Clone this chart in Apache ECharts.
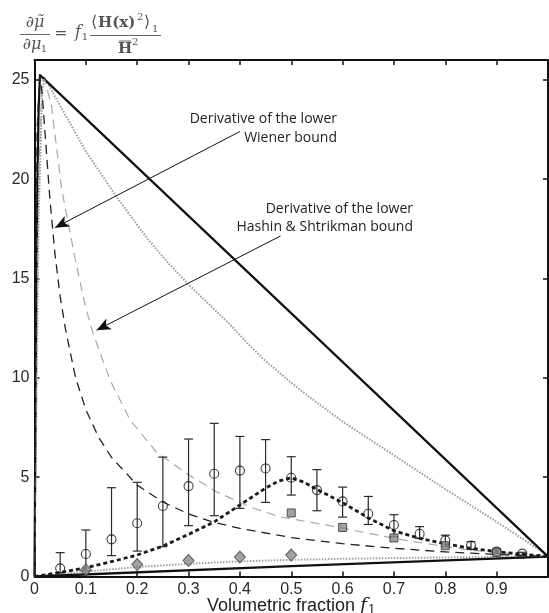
<!DOCTYPE html>
<html>
<head>
<meta charset="utf-8">
<script src="https://cdn.jsdelivr.net/npm/echarts@6/dist/echarts.min.js"></script>
<style>html,body{margin:0;padding:0;background:#fff}#c{width:549px;height:613px}</style>
</head>
<body>
<div id="c"></div>
<script>
// ---- data ----
const xTicks = [0, 0.1, 0.2, 0.3, 0.4, 0.5, 0.6, 0.7, 0.8, 0.9];
const yTicks = [0, 5, 10, 15, 20, 25];

// simulated points with error bars (open circles)
const circleX = [0.05,0.1,0.15,0.2,0.25,0.3,0.35,0.4,0.45,0.5,0.55,0.6,0.65,0.7,0.75,0.8,0.85,0.9,0.95];
const circleY = [0.41,1.13,1.87,2.68,3.55,4.55,5.17,5.33,5.44,4.97,4.35,3.78,3.16,2.59,2.15,1.82,1.56,1.25,1.15];
const errLow  = [0.19,0.3,1.05,1.28,1.5,2.56,3.06,3.43,3.73,4.10,3.31,2.99,2.62,2.0,1.92,1.5,1.37,1.15,1.05];
const errHigh = [1.2,2.34,4.47,4.74,6.01,6.92,7.71,7.05,6.89,6.03,5.38,4.50,4.03,3.11,2.51,2.08,1.75,1.35,1.22];

// grey squares
const squareX = [0.5,0.6,0.7,0.8,0.9];
const squareY = [3.2,2.47,1.94,1.55,1.22];

// grey diamonds
const diamondX = [0.1,0.2,0.3,0.4,0.5];
const diamondY = [0.33,0.6,0.8,0.98,1.08];

// thick black dotted curve (peak at 0.5)
const peakX = [0,0.05,0.1,0.15,0.2,0.25,0.3,0.35,0.4,0.45,0.475,0.5,0.525,0.55,0.6,0.65,0.7,0.75,0.8,0.85,0.9,0.95,1];
const peakY = [0,0.2,0.44,0.75,1.08,1.53,2.12,2.75,3.6,4.45,4.8,4.97,4.75,4.38,3.72,2.95,2.3,1.92,1.64,1.42,1.25,1.12,1.02];

// black dashed: derivative of the lower Wiener bound
const wienerX = [0,0.005,0.01,0.015,0.02,0.03,0.04,0.05,0.06,0.08,0.1,0.125,0.15,0.2,0.25,0.3,0.35,0.4,0.5,0.6,0.7,0.8,0.9,1];
const wienerY = [0,22.4,25.2,24.3,22.5,19.0,16.2,14.1,12.5,10.0,8.4,7.0,6.0,4.6,3.75,3.15,2.72,2.42,1.96,1.65,1.42,1.24,1.11,1.0];

// grey dashed: derivative of the lower Hashin & Shtrikman bound
const hsX = [0,0.008,0.015,0.02,0.033,0.053,0.079,0.1,0.114,0.147,0.186,0.237,0.296,0.354,0.419,0.477,0.587,0.717,0.846,1];
const hsY = [0,20,25.0,25.0,23.7,19.5,16.0,13.5,12.24,9.9,7.88,6.28,5.19,4.27,3.51,3.01,2.5,1.84,1.33,1.0];

// grey dotted upper curve
const dotUpX = [0,0.008,0.015,0.02,0.05,0.1,0.16,0.22,0.26,0.3,0.34,0.38,0.42,0.45,0.5,0.55,0.6,0.7,0.8,0.9,1];
const dotUpY = [0,18,24.5,25.1,23.7,21.4,19.1,17.0,15.8,14.7,13.7,12.7,11.6,10.85,9.75,8.75,7.8,6.1,4.4,2.75,1.05];

// thick solid upper line
const solidUpX = [0,0.002,0.004,0.006,0.008,0.0107,1];
const solidUpY = [0,9,16,20.5,23.5,25.24,1.0];

// thick solid lower line
const solidLowX = [0,0.5,1];
const solidLowY = [0,0.52,1.0];

// grey dotted lower curve
const dotLowX = [0,0.05,0.1,0.2,0.3,0.4,0.5,0.6,0.7,0.8,0.9,1];
const dotLowY = [0,0.12,0.25,0.48,0.64,0.76,0.84,0.89,0.93,0.96,0.98,1.0];

// annotation arrows [start, tip]
const arrow1 = [[0.4,22.4],[0.04,17.56]];
const arrow2 = [[0.479,17.14],[0.121,12.4]];

const zip = (a,b) => a.map((v,i)=>[v,b[i]]);

const axisCommon = {
  type: 'value', min: 0,
  splitLine: {show: false},
  axisLine: {show: true, onZero: false, lineStyle: {color: '#111', width: 2}},
  axisTick: {show: true, inside: true, length: 5, lineStyle: {color: '#111', width: 1.5}}
};

const labelStyle = {color: '#2a2a2a', fontSize: 16, fontFamily: 'Liberation Sans'};

const chart = echarts.init(document.getElementById('c'), null, {renderer: 'canvas'});

const lineSeries = (name, x, y, color, width, dash, z) => ({
  name, type: 'line', data: zip(x, y), showSymbol: false, symbol: 'none',
  smooth: false, silent: true, z: z || 2,
  lineStyle: {color, width, type: dash || 'solid', join: 'round'}
});

chart.setOption({
  animation: false,
  backgroundColor: '#fff',
  grid: {left: 34.5, right: 1, top: 60, bottom: 36.5, containLabel: false, outerBoundsMode: 'none'},
  xAxis: [
    Object.assign({}, axisCommon, {
      max: 1, interval: 0.1, position: 'bottom',
      axisLabel: Object.assign({margin: 5, showMaxLabel: false,
        formatter: v => xTicks.some(t => Math.abs(t - v) < 1e-9) ? String(+v.toFixed(1)) : ''}, labelStyle),
      name: '{t|Volumetric fraction }{f|f}{s|1}',
      nameLocation: 'middle', nameGap: 20, nameMoveOverlap: false,
      nameTextStyle: {rich: {
        t: {fontSize: 18, fontFamily: 'Liberation Sans', color: '#222', lineHeight: 20, verticalAlign: 'middle'},
        f: {fontSize: 19, fontFamily: 'DejaVu Serif', fontStyle: 'italic', color: '#222', lineHeight: 20, verticalAlign: 'middle'},
        s: {fontSize: 12, fontFamily: 'DejaVu Serif', color: '#222', lineHeight: 12, verticalAlign: 'bottom', padding: [0,0,0,1]}
      }}
    }),
    Object.assign({}, axisCommon, {max: 1, interval: 0.1, position: 'top', axisLabel: {show: false}})
  ],
  yAxis: [
    Object.assign({}, axisCommon, {
      max: 26, interval: 5, position: 'left',
      axisLabel: Object.assign({margin: 5, showMaxLabel: false,
        formatter: v => yTicks.includes(v) ? String(v) : ''}, labelStyle)
    }),
    Object.assign({}, axisCommon, {max: 26, interval: 5, position: 'right', axisLabel: {show: false}})
  ],
  series: [
    lineSeries('dotLow', dotLowX, dotLowY, '#a0a0a0', 2, [1.5, 1.5]),
    lineSeries('solidLow', solidLowX, solidLowY, '#111', 2.4),
    lineSeries('dotUp', dotUpX, dotUpY, '#9c9c9c', 2, [1.5, 1.5]),
    lineSeries('solidUp', solidUpX, solidUpY, '#111', 2.2),
    lineSeries('hs', hsX, hsY, '#a8a8a8', 1.2, [9, 6]),
    lineSeries('wiener', wienerX, wienerY, '#222', 1.3, [9, 6]),
    lineSeries('peak', peakX, peakY, '#1a1a1a', 2.8, [4, 3], 3),
    {
      name: 'errbars', type: 'custom', silent: true, z: 4,
      data: circleX.map((x,i)=>[x, errLow[i], errHigh[i]]),
      renderItem: (params, api) => {
        const x = api.value(0);
        const pl = api.coord([x, api.value(1)]);
        const ph = api.coord([x, api.value(2)]);
        const w = 4.5;
        const st = {stroke: '#2a2a2a', lineWidth: 1.2};
        return {type: 'group', children: [
          {type: 'line', shape: {x1: pl[0], y1: pl[1], x2: ph[0], y2: ph[1]}, style: st},
          {type: 'line', shape: {x1: ph[0]-w, y1: ph[1], x2: ph[0]+w, y2: ph[1]}, style: st},
          {type: 'line', shape: {x1: pl[0]-w, y1: pl[1], x2: pl[0]+w, y2: pl[1]}, style: st}
        ]};
      }
    },
    {
      name: 'circles', type: 'scatter', data: zip(circleX, circleY), symbol: 'circle', symbolSize: 9, z: 5,
      silent: true, itemStyle: {color: 'rgba(255,255,255,0)', borderColor: '#111', borderWidth: 1.1}
    },
    {
      name: 'squares', type: 'scatter', data: zip(squareX, squareY), symbol: 'rect', symbolSize: 8, z: 6,
      silent: true, itemStyle: {color: '#8a8a8a', borderColor: '#333', borderWidth: 1}
    },
    {
      name: 'diamonds', type: 'scatter', data: zip(diamondX, diamondY), symbol: 'diamond', symbolSize: [11, 12], z: 6,
      silent: true, itemStyle: {color: '#8a8a8a', borderColor: '#444', borderWidth: 1}
    },
    {
      name: 'arrows', type: 'line', data: [], silent: true, z: 7,
      markLine: {
        silent: true, animation: false,
        symbol: ['none', 'arrow'], symbolSize: [9, 14],
        label: {show: false},
        lineStyle: {type: 'solid', color: '#111', width: 1},
        emphasis: {disabled: true},
        data: [
          [{coord: arrow1[0]}, {coord: arrow1[1]}],
          [{coord: arrow2[0]}, {coord: arrow2[1]}]
        ]
      }
    }
  ],
  graphic: [
    // annotation texts
    {type: 'text', x: 337, y: 119, style: {text: 'Derivative of the lower', font: '14px "Open Sans"', fill: '#222', align: 'right', verticalAlign: 'middle'}},
    {type: 'text', x: 337, y: 138, style: {text: 'Wiener bound', font: '14px "Open Sans"', fill: '#222', align: 'right', verticalAlign: 'middle'}},
    {type: 'text', x: 413, y: 209, style: {text: 'Derivative of the lower', font: '14px "Open Sans"', fill: '#222', align: 'right', verticalAlign: 'middle'}},
    {type: 'text', x: 413, y: 227, style: {text: 'Hashin & Shtrikman bound', font: '14px "Open Sans"', fill: '#222', align: 'right', verticalAlign: 'middle'}},
    // formula
    {type: 'text', x: 35, y: 23, style: {text: '\u2202\u03bc\u0303', font: 'italic 16px "DejaVu Serif"', fill: '#555', align: 'center', verticalAlign: 'middle'}},
    {type: 'line', shape: {x1: 20, y1: 34.5, x2: 50, y2: 34.5}, style: {stroke: '#555', lineWidth: 0.9}},
    {type: 'text', x: 32, y: 45, style: {text: '\u2202\u03bc', font: 'italic 16px "DejaVu Serif"', fill: '#555', align: 'center', verticalAlign: 'middle'}},
    {type: 'text', x: 44, y: 49, style: {text: '1', font: '10px "DejaVu Serif"', fill: '#555', align: 'center', verticalAlign: 'middle'}},
    {type: 'text', x: 61, y: 34, style: {text: '=', font: '16px "DejaVu Serif"', fill: '#555', align: 'center', verticalAlign: 'middle'}},
    {type: 'text', x: 78, y: 33, style: {text: 'f', font: 'italic 16px "DejaVu Serif"', fill: '#555', align: 'center', verticalAlign: 'middle'}},
    {type: 'text', x: 85, y: 37, style: {text: '1', font: '10px "DejaVu Serif"', fill: '#555', align: 'center', verticalAlign: 'middle'}},
    {type: 'text', x: 91, y: 23, style: {text: '\u27e8', font: '16px "DejaVu Serif"', fill: '#555', align: 'left', verticalAlign: 'middle'}},
    {type: 'text', x: 98, y: 23, style: {text: 'H(x)', font: 'bold 15px "DejaVu Serif"', fill: '#555', align: 'left', verticalAlign: 'middle'}},
    {type: 'text', x: 137, y: 17, style: {text: '2', font: '10px "DejaVu Serif"', fill: '#555', align: 'left', verticalAlign: 'middle'}},
    {type: 'text', x: 144, y: 23, style: {text: '\u27e9', font: '16px "DejaVu Serif"', fill: '#555', align: 'left', verticalAlign: 'middle'}},
    {type: 'text', x: 152, y: 29, style: {text: '1', font: '10px "DejaVu Serif"', fill: '#555', align: 'left', verticalAlign: 'middle'}},
    {type: 'line', shape: {x1: 90, y1: 35.5, x2: 161, y2: 35.5}, style: {stroke: '#555', lineWidth: 0.9}},
    {type: 'line', shape: {x1: 119, y1: 41, x2: 131, y2: 41}, style: {stroke: '#555', lineWidth: 0.9}},
    {type: 'text', x: 125, y: 49, style: {text: 'H', font: 'bold 15px "DejaVu Serif"', fill: '#555', align: 'center', verticalAlign: 'middle'}},
    {type: 'text', x: 132, y: 42, style: {text: '2', font: '10px "DejaVu Serif"', fill: '#555', align: 'left', verticalAlign: 'middle'}}
  ]
});
</script>
</body>
</html>
